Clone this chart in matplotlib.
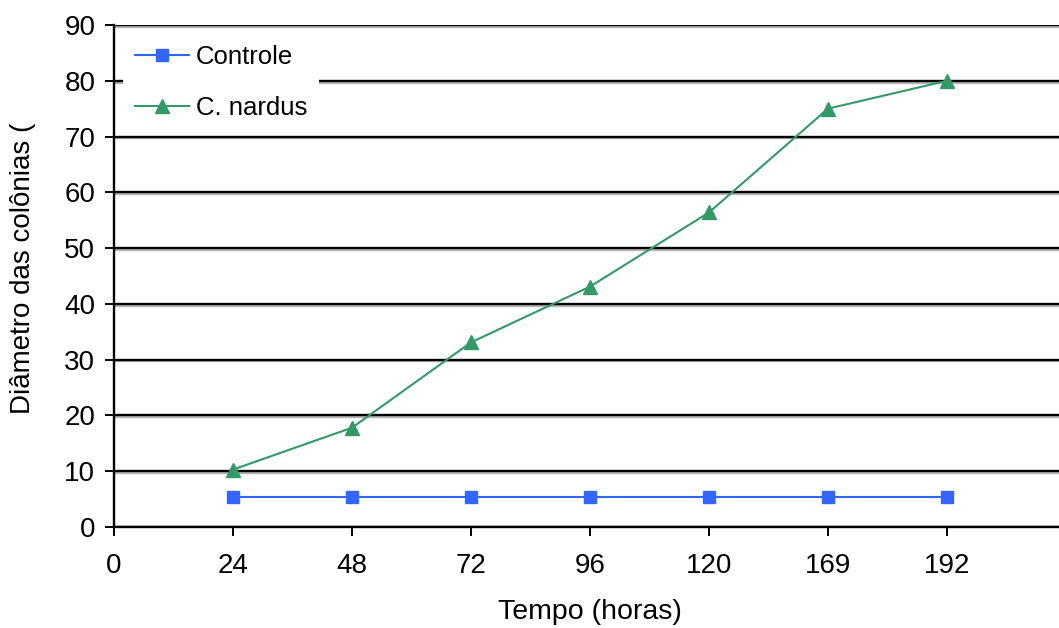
import matplotlib.pyplot as plt
import matplotlib.patheffects as pe
import numpy as np

plt.rcParams['font.family'] = ['Liberation Sans', 'DejaVu Sans']

# Dados: diâmetro das colônias ao longo do tempo
tempos = ['0', '24', '48', '72', '96', '120', '169', '192']
controle = [5.3, 5.3, 5.3, 5.3, 5.3, 5.3, 5.3]
nardus = [10.3, 17.8, 33.1, 43.1, 56.4, 75.0, 80.0]

W, H = 1059, 628
FS = 20
FS_LEG = 18.5
fig = plt.figure(figsize=(W / 100, H / 100), dpi=100)
# a área do gráfico vai um pouco além da borda direita
ax = fig.add_axes([114 / W, 1 - 527 / H, 8 * 119 / W, (527 - 25) / H])

pos = np.arange(1, len(controle) + 1)

# linhas de grade com leve sombra cinza
for yv in range(0, 100, 10):
    ax.axhline(yv, color='black', lw=1.7, zorder=1,
               path_effects=[pe.SimpleLineShadow(offset=(0, -1.3), shadow_color='#b5b5b5', alpha=1),
                             pe.Normal()])

ax.plot(pos, controle, color='#3366FF', lw=1.5, marker='s', markersize=8,
        label='Controle', zorder=3, clip_on=False)
ax.plot(pos, nardus, color='#339966', lw=1.5, marker='^', markersize=10,
        label='C. nardus', zorder=3, clip_on=False)

ax.set_xlim(0, 8)
ax.set_ylim(0, 90)
ax.set_xticks(range(len(tempos)))
ax.set_xticklabels(tempos)
ax.set_yticks(range(0, 100, 10))

for s in ['top', 'right']:
    ax.spines[s].set_visible(False)
ax.spines['left'].set_linewidth(1.7)
ax.spines['bottom'].set_linewidth(1.7)
ax.spines['left'].set_zorder(4)

ax.tick_params(axis='both', direction='out', length=6.5, width=1.4, labelsize=FS, colors='black')
ax.tick_params(axis='x', pad=12)
ax.tick_params(axis='y', pad=7)

fig.text(590 / W, 1 - 612 / H, 'Tempo (horas)', ha='center', va='center', fontsize=20.5)
fig.text(23 / W, 1 - 268 / H, 'Diâmetro das colônias (', ha='center', va='center',
         rotation=90, fontsize=FS)

leg = ax.legend(loc='upper left', bbox_to_anchor=(123 / W, 1 - 33 / H), bbox_transform=fig.transFigure,
                fontsize=FS_LEG, frameon=True, fancybox=False, edgecolor='none', facecolor='white',
                framealpha=1, handlelength=2.1, handletextpad=0.27, labelspacing=1.06,
                borderpad=0.47, borderaxespad=0)
leg.set_zorder(5)

fig.savefig('out.png', dpi=100)
